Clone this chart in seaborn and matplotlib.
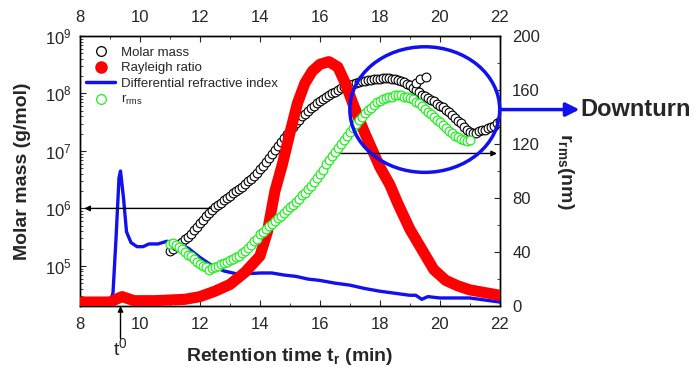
import numpy as np
import matplotlib
matplotlib.use("Agg")
import matplotlib.pyplot as plt
from matplotlib.patches import Ellipse
from matplotlib.lines import Line2D
from matplotlib.ticker import MultipleLocator
import seaborn as sns

# --- data ---
# molar mass (log10 g/mol), black open circles, sampled every 0.1 min from 11.0 to 22.0
mm_time = np.round(np.arange(11.0, 22.05, 0.1), 1)
mm_log = [5.26, 5.30, 5.34, 5.38, 5.42, 5.46, 5.51, 5.56, 5.62, 5.68,
          5.74, 5.80, 5.86, 5.92, 5.97, 6.02, 6.06, 6.10, 6.14, 6.18,
          6.22, 6.26, 6.30, 6.34, 6.38, 6.42, 6.47, 6.52, 6.57, 6.62,
          6.68, 6.74, 6.80, 6.87, 6.94, 7.01, 7.08, 7.15, 7.22, 7.29,
          7.36, 7.42, 7.48, 7.54, 7.60, 7.65, 7.70, 7.75, 7.79, 7.83,
          7.87, 7.91, 7.94, 7.97, 8.00, 8.03, 8.06, 8.09, 8.11, 8.13,
          8.15, 8.17, 8.18, 8.20, 8.21, 8.22, 8.23, 8.24, 8.25, 8.26,
          8.26, 8.27, 8.27, 8.27, 8.26, 8.25, 8.24, 8.22, 8.20, 8.17,
          8.14, 8.10, 8.06, 8.02, 7.98, 7.95, 7.92, 7.89, 7.86, 7.82,
          7.78, 7.76, 7.72, 7.67, 7.62, 7.58, 7.52, 7.48, 7.42, 7.37,
          7.33, 7.31, 7.32, 7.34, 7.36, 7.37, 7.40, 7.41, 7.44, 7.48,
          7.52]
# a few scattered high points near the downturn
mm_out_time = [19.2, 19.35, 19.55]
mm_out_log = [8.18, 8.26, 8.28]

# r_rms (nm), green open circles, every 0.1 min from 11.0 to 21.0
rg_time = np.round(np.arange(11.0, 21.05, 0.1), 1)
rg_nm = [46, 47, 45, 44, 42, 40, 38, 37, 35, 33,
         31, 30, 29, 27, 28, 29, 30, 31, 32, 33,
         34, 35, 36, 37, 39, 41, 43, 45, 48, 50,
         53, 55, 57, 59, 61, 63, 65, 67, 69, 71,
         73, 75, 77, 79, 82, 84, 87, 89, 92, 95,
         98, 101, 105, 108, 111, 114, 117, 120, 123, 126,
         129, 132, 135, 138, 140, 143, 145, 147, 149, 151,
         152, 153, 154, 155, 155, 156, 156, 156, 155, 155,
         154, 153, 151, 150, 148, 146, 144, 142, 140, 138,
         136, 134, 132, 130, 128, 126, 125, 124, 123, 122,
         123]

# Rayleigh ratio (arb., on right scale), red
ray_time = [8.0, 9.0, 9.2, 9.4, 9.6, 9.8, 10.5, 11.0, 11.5, 12.0, 12.5, 13.0, 13.5, 14.0,
            14.25, 14.5, 14.75, 15.0, 15.25, 15.5, 15.75, 16.0, 16.3, 16.6, 16.85, 17.1, 17.5,
            18.0, 18.33, 18.6, 19.0, 19.4, 19.8, 20.2, 20.6, 21.0, 21.5, 22.0]
ray_val = [3, 3, 5, 7, 5.5, 4, 4, 4.5, 5, 7, 11, 16, 25, 37,
           55, 85, 105, 128, 150, 165, 174, 179, 181, 177, 165, 150, 128,
           103, 90, 76, 57, 42, 27, 19, 15, 12, 10, 8]

# differential refractive index (arb., on right scale), blue
dri_time = [8.45, 8.5, 9.0, 9.1, 9.2, 9.3, 9.35, 9.45, 9.55, 9.7, 9.9, 10.1, 10.3, 10.6, 10.9,
            11.2, 11.6, 12.0, 12.4, 12.8, 13.2, 13.6, 14.0, 14.4, 14.8, 15.2, 15.6, 16.0, 16.5,
            17.0, 17.5, 18.0, 18.5, 19.0, 19.2, 19.4, 19.6, 20.0, 20.5, 21.0, 21.5, 22.0]
dri_val = [2, 2, 2, 10, 50, 95, 100, 80, 55, 47, 44, 44, 46, 46, 48,
           46, 43, 36, 30, 26, 24, 24, 24.5, 24.5, 23, 22, 20, 19, 17,
           15.5, 13, 11, 9.5, 8, 8, 5, 7, 6, 6, 6, 4.5, 3]

x_ticks = [8, 10, 12, 14, 16, 18, 20, 22]
r_ticks = [0, 40, 80, 120, 160, 200]

BLUE = "#1010f0"
GREEN = "#22ee22"

sns.set_style("ticks")
plt.rcParams["font.family"] = ["Liberation Sans", "DejaVu Sans"]
plt.rcParams["mathtext.fontset"] = "custom"
plt.rcParams["mathtext.rm"] = "Liberation Sans"
plt.rcParams["mathtext.it"] = "Liberation Sans:italic"
plt.rcParams["mathtext.bf"] = "Liberation Sans:bold"

fig = plt.figure(figsize=(6.96, 3.67), dpi=100)
ax = fig.add_axes([0.115, 0.166, 0.603, 0.736])
ax2 = ax.twinx()

# molar mass on log axis
sns.scatterplot(x=np.concatenate([mm_time, mm_out_time]),
                y=10 ** np.array(mm_log + mm_out_log), ax=ax, marker="o", s=40,
                facecolor="white", edgecolor="black", linewidth=0.8, zorder=3)

# right-axis series
sns.lineplot(x=dri_time, y=dri_val, ax=ax2, color=BLUE, linewidth=2.4,
             estimator=None, sort=False, zorder=2)
sns.lineplot(x=ray_time, y=ray_val, ax=ax2, color="#ff0000", linewidth=8,
             estimator=None, sort=False, zorder=3, solid_capstyle="round")
sns.scatterplot(x=rg_time, y=rg_nm, ax=ax2, marker="o", s=40,
                facecolor="white", edgecolor=GREEN, linewidth=0.9, zorder=4)

ax.set_xlim(8, 22)
ax.set_yscale("log")
ax.set_ylim(2.0e4, 1e9)
ax2.set_ylim(0, 200)
ax.set_xticks(x_ticks)
ax.xaxis.set_minor_locator(MultipleLocator(1))
ax2.set_yticks(r_ticks)
ax2.yaxis.set_minor_locator(MultipleLocator(20))

ax.tick_params(which="both", direction="in", top=True, labeltop=True, labelsize=12)
ax.tick_params(axis="x", pad=8)
ax.tick_params(axis="y", pad=6)
ax.tick_params(which="major", length=4)
ax.tick_params(which="minor", length=2.5)
ax2.tick_params(which="both", direction="in", labelsize=12, pad=9)
ax2.tick_params(which="major", length=4)
ax2.tick_params(which="minor", length=2.5)
for a in (ax, ax2):
    for s in a.spines.values():
        s.set_linewidth(1)
        s.set_color("black")

ax.set_xlabel("Retention time t$_\\mathbf{r}$ (min)", fontsize=14, fontweight="bold", labelpad=10)
ax.set_ylabel("Molar mass (g/mol)", fontsize=14, fontweight="bold", labelpad=10)
ax2.set_ylabel("r$_\\mathbf{rms}$(nm)", fontsize=14, fontweight="bold", rotation=270, labelpad=26)

# annotations
ax2.add_patch(Ellipse((19.5, 145.5), 5.0, 93, fill=False, edgecolor=BLUE, linewidth=2.5,
                      zorder=6, clip_on=False))
ax2.annotate("", xy=(8.05, 1e6), xytext=(12.45, 1e6), xycoords=ax.transData,
             arrowprops=dict(arrowstyle="-|>", color="black", lw=1, mutation_scale=8))
ax2.annotate("", xy=(22.0, 113), xytext=(16.6, 113),
             arrowprops=dict(arrowstyle="-|>", color="black", lw=1, mutation_scale=8),
             annotation_clip=False)
ax2.annotate("", xy=(1.19, 0.7275), xytext=(1.0, 0.7275), xycoords="axes fraction",
             textcoords="axes fraction", annotation_clip=False,
             arrowprops=dict(arrowstyle="-|>", color=BLUE, lw=2.5, mutation_scale=20,
                             shrinkA=0, shrinkB=0))
ax2.text(1.192, 0.7275, "Downturn", transform=ax2.transAxes, fontsize=17, fontweight="bold",
         va="center", ha="left")
ax2.annotate("", xy=(9.35, 0.0), xytext=(9.35, -0.12), xycoords=("data", "axes fraction"),
             textcoords=("data", "axes fraction"), annotation_clip=False,
             arrowprops=dict(arrowstyle="-|>", color="black", lw=1, mutation_scale=8,
                             shrinkA=0, shrinkB=0))
ax2.text(9.35, -0.115, "t$^0$", transform=ax2.get_xaxis_transform(), fontsize=14,
         ha="center", va="top")

handles = [
    Line2D([], [], ls="", marker="o", ms=7, mfc="white", mec="black", mew=0.9),
    Line2D([], [], ls="", marker="o", ms=8, mfc="#ff0000", mec="#ff0000"),
    Line2D([], [], color=BLUE, lw=2.5),
    Line2D([], [], ls="", marker="o", ms=7, mfc="white", mec=GREEN, mew=0.9),
]
labels = ["Molar mass", "Rayleigh ratio", "Differential refractive index", "r$_\\mathrm{rms}$"]
ax2.legend(handles, labels, loc="upper left", bbox_to_anchor=(-0.01, 1.0), frameon=False,
           fontsize=9.5, handlelength=2.2, handletextpad=0.4, labelspacing=0.25, borderpad=0.3)

fig.savefig("out.png", dpi=100)
